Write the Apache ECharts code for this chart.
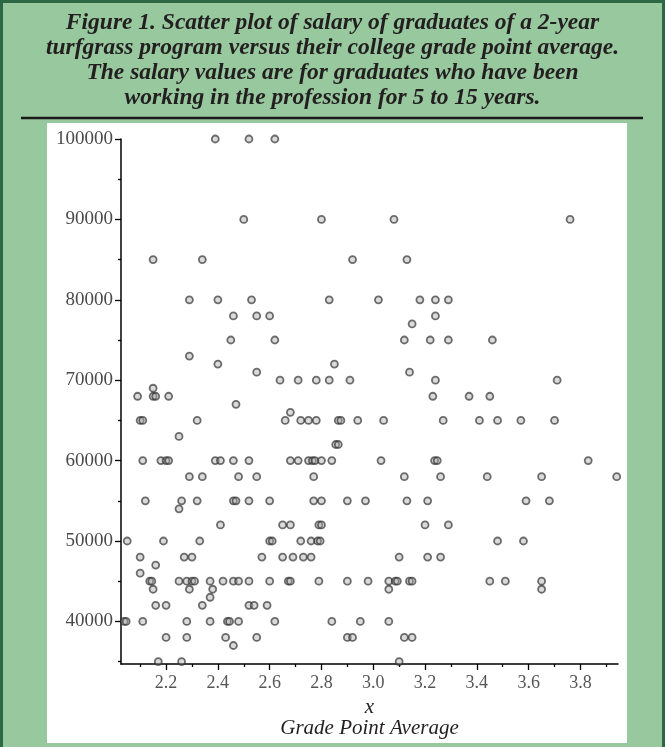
<!DOCTYPE html>
<html>
<head>
<meta charset="utf-8">
<script src="https://cdn.jsdelivr.net/npm/echarts@6/dist/echarts.min.js"></script>
<style>
html,body{margin:0;padding:0;background:#97c89e;}
#chart{width:665px;height:747px;}
</style>
</head>
<body>
<div id="chart"></div>
<script>
// Title lines
var titleLines = [
  "Figure 1. Scatter plot of salary of graduates of a 2-year",
  "turfgrass program versus their college grade point average.",
  "The salary values are for graduates who have been",
  "working in the profession for 5 to 15 years."
];
var xAxisVar = "x";
var xAxisTitle = "Grade Point Average";

// Tick values
var yTickLabels = [40000, 50000, 60000, 70000, 80000, 90000, 100000];
var yMajorTicks = [40000, 50000, 60000, 70000, 80000, 90000, 100000];
var yMinorTicks = [35000, 45000, 55000, 65000, 75000, 85000, 95000];
var xTickLabels = [2.2, 2.4, 2.6, 2.8, 3.0, 3.2, 3.4, 3.6, 3.8];
var xMajorTicks = [2.2, 2.4, 2.6, 2.8, 3.0, 3.2, 3.4, 3.6, 3.8];
var xMinorTicks = [2.1, 2.3, 2.5, 2.7, 2.9, 3.1, 3.3, 3.5, 3.7, 3.9];

// Data: grade point average (x) and salary (y), listed by salary level
var gpa = [
  2.39, 2.52, 2.62,
  2.50, 2.80, 3.08, 3.76,
  2.15, 2.34, 2.92, 3.13,
  2.29, 2.40, 2.53, 2.83, 3.02, 3.18, 3.24, 3.29,
  2.46, 2.55, 2.60, 3.24,
  3.15,
  2.45, 2.62, 3.12, 3.22, 3.29, 3.46,
  2.29,
  2.40, 2.85,
  2.55, 3.14,
  2.64, 2.71, 2.78, 2.83, 2.91, 3.24, 3.71,
  2.15,
  2.09, 2.15, 2.16, 2.21, 3.23, 3.37, 3.45,
  2.47,
  2.68,
  2.10, 2.11, 2.32, 2.66, 2.72, 2.75, 2.78, 2.865, 2.875, 2.94, 3.04, 3.27, 3.41, 3.48, 3.57, 3.70,
  2.25,
  2.855, 2.865,
  2.11, 2.18, 2.20, 2.21, 2.39, 2.41, 2.46, 2.52, 2.68, 2.71, 2.75, 2.765, 2.775, 2.80, 2.84, 3.03, 3.237, 3.247, 3.83,
  2.29, 2.34, 2.48, 2.55, 2.77, 3.12, 3.26, 3.44, 3.65, 3.94,
  2.12, 2.26, 2.32, 2.46, 2.47, 2.52, 2.60, 2.77, 2.80, 2.90, 2.97, 3.13, 3.21, 3.59, 3.68,
  2.25,
  2.41, 2.65, 2.68, 2.79, 2.80, 3.20, 3.29,
  2.05, 2.19, 2.33, 2.60, 2.61, 2.72, 2.76, 2.785, 2.795, 3.48, 3.58,
  2.10, 2.27, 2.30, 2.57, 2.65, 2.69, 2.73, 2.76, 3.10, 3.21, 3.26,
  2.16,
  2.10,
  2.137, 2.145, 2.25, 2.28, 2.30, 2.31, 2.37, 2.42, 2.46, 2.48, 2.52, 2.60, 2.672, 2.68, 2.79, 2.90, 2.98, 3.06, 3.085, 3.093, 3.14, 3.15, 3.45, 3.51, 3.65,
  2.15, 2.29, 2.38, 3.06, 3.65,
  2.37,
  2.16, 2.20, 2.34, 2.52, 2.54, 2.59,
  2.038, 2.046, 2.11, 2.28, 2.37, 2.437, 2.445, 2.48, 2.62, 2.84, 2.95, 3.06,
  2.20, 2.28, 2.43, 2.55, 2.90, 2.92, 3.12, 3.15,
  2.46,
  2.17, 2.26, 3.10
];
var salary = [
  100000, 100000, 100000,
  90000, 90000, 90000, 90000,
  85000, 85000, 85000, 85000,
  80000, 80000, 80000, 80000, 80000, 80000, 80000, 80000,
  78000, 78000, 78000, 78000,
  77000,
  75000, 75000, 75000, 75000, 75000, 75000,
  73000,
  72000, 72000,
  71000, 71000,
  70000, 70000, 70000, 70000, 70000, 70000, 70000,
  69000,
  68000, 68000, 68000, 68000, 68000, 68000, 68000,
  67000,
  66000,
  65000, 65000, 65000, 65000, 65000, 65000, 65000, 65000, 65000, 65000, 65000, 65000, 65000, 65000, 65000, 65000,
  63000,
  62000, 62000,
  60000, 60000, 60000, 60000, 60000, 60000, 60000, 60000, 60000, 60000, 60000, 60000, 60000, 60000, 60000, 60000, 60000, 60000, 60000,
  58000, 58000, 58000, 58000, 58000, 58000, 58000, 58000, 58000, 58000,
  55000, 55000, 55000, 55000, 55000, 55000, 55000, 55000, 55000, 55000, 55000, 55000, 55000, 55000, 55000,
  54000,
  52000, 52000, 52000, 52000, 52000, 52000, 52000,
  50000, 50000, 50000, 50000, 50000, 50000, 50000, 50000, 50000, 50000, 50000,
  48000, 48000, 48000, 48000, 48000, 48000, 48000, 48000, 48000, 48000, 48000,
  47000,
  46000,
  45000, 45000, 45000, 45000, 45000, 45000, 45000, 45000, 45000, 45000, 45000, 45000, 45000, 45000, 45000, 45000, 45000, 45000, 45000, 45000, 45000, 45000, 45000, 45000, 45000,
  44000, 44000, 44000, 44000, 44000,
  43000,
  42000, 42000, 42000, 42000, 42000, 42000,
  40000, 40000, 40000, 40000, 40000, 40000, 40000, 40000, 40000, 40000, 40000, 40000,
  38000, 38000, 38000, 38000, 38000, 38000, 38000, 38000,
  37000,
  35000, 35000, 35000
];

var points = gpa.map(function (g, i) { return [g, salary[i]]; });

var chart = echarts.init(document.getElementById('chart'), null, {renderer: 'canvas'});
var serif = "'Liberation Serif', 'Times New Roman', serif";

var option = {
  animation: false,
  backgroundColor: '#97c89e',
  graphic: [
    { type: 'rect', z: -10, silent: true,
      shape: { x: 1.5, y: 1.5, width: 662, height: 760 },
      style: { fill: '#97c89e', stroke: '#2b6843', lineWidth: 3 } },
    { type: 'rect', z: -9, silent: true,
      shape: { x: 47, y: 123, width: 580, height: 620 },
      style: { fill: '#ffffff' } },
    { type: 'line', z: -9, silent: true,
      shape: { x1: 21, y1: 118, x2: 643, y2: 118 },
      style: { stroke: '#1a1a1a', lineWidth: 2.5 } }
  ],
  title: {
    text: titleLines.join('\n'),
    left: 'center',
    top: 5,
    textStyle: {
      fontFamily: serif,
      fontStyle: 'italic',
      fontWeight: 'bold',
      fontSize: 23.5,
      lineHeight: 25,
      color: '#231f20',
      align: 'center'
    }
  },
  grid: { left: 121, right: 47, top: 139, bottom: 83 },
  xAxis: [
    {
      type: 'value', min: 2.026, max: 3.945,
      name: xAxisVar + '\n' + xAxisTitle,
      nameLocation: 'middle', nameGap: 33,
      nameTextStyle: { fontFamily: serif, fontStyle: 'italic', fontSize: 21, lineHeight: 21, color: '#231f20' },
      axisLine: { show: true, onZero: false, lineStyle: { color: '#000', width: 1.5 } },
      axisTick: { show: true, inside: false, length: 6, customValues: xMajorTicks, lineStyle: { color: '#000', width: 1.3 } },
      axisLabel: { show: true, customValues: xTickLabels, margin: 10, fontFamily: serif, fontSize: 18, color: '#555',
        formatter: function (v) { return v.toFixed(1); } },
      splitLine: { show: false }
    },
    {
      type: 'value', min: 2.026, max: 3.945, position: 'bottom',
      axisLine: { show: false },
      axisTick: { show: true, inside: false, length: 3, customValues: xMinorTicks, lineStyle: { color: '#000', width: 1.3 } },
      axisLabel: { show: false },
      splitLine: { show: false }
    }
  ],
  yAxis: [
    {
      type: 'value', min: 34700, max: 100000,
      axisLine: { show: true, onZero: false, lineStyle: { color: '#000', width: 1.5 } },
      axisTick: { show: true, inside: false, length: 6, customValues: yMajorTicks, lineStyle: { color: '#000', width: 1.3 } },
      axisLabel: { show: true, customValues: yTickLabels, margin: 8, fontFamily: serif, fontSize: 19, color: '#4a4a4a',
        formatter: function (v) { return String(Math.round(v)); } },
      splitLine: { show: false }
    },
    {
      type: 'value', min: 34700, max: 100000, position: 'left',
      axisLine: { show: false },
      axisTick: { show: true, inside: false, length: 3, customValues: yMinorTicks, lineStyle: { color: '#000', width: 1.3 } },
      axisLabel: { show: false },
      splitLine: { show: false }
    }
  ],
  series: [{
    type: 'scatter',
    xAxisIndex: 0,
    yAxisIndex: 0,
    data: points,
    symbol: 'circle',
    symbolSize: 7,
    itemStyle: {
      color: 'rgba(170,170,170,0.55)',
      borderColor: 'rgba(45,45,45,0.85)',
      borderWidth: 1.8
    }
  }]
};
chart.setOption(option);
</script>
</body>
</html>
